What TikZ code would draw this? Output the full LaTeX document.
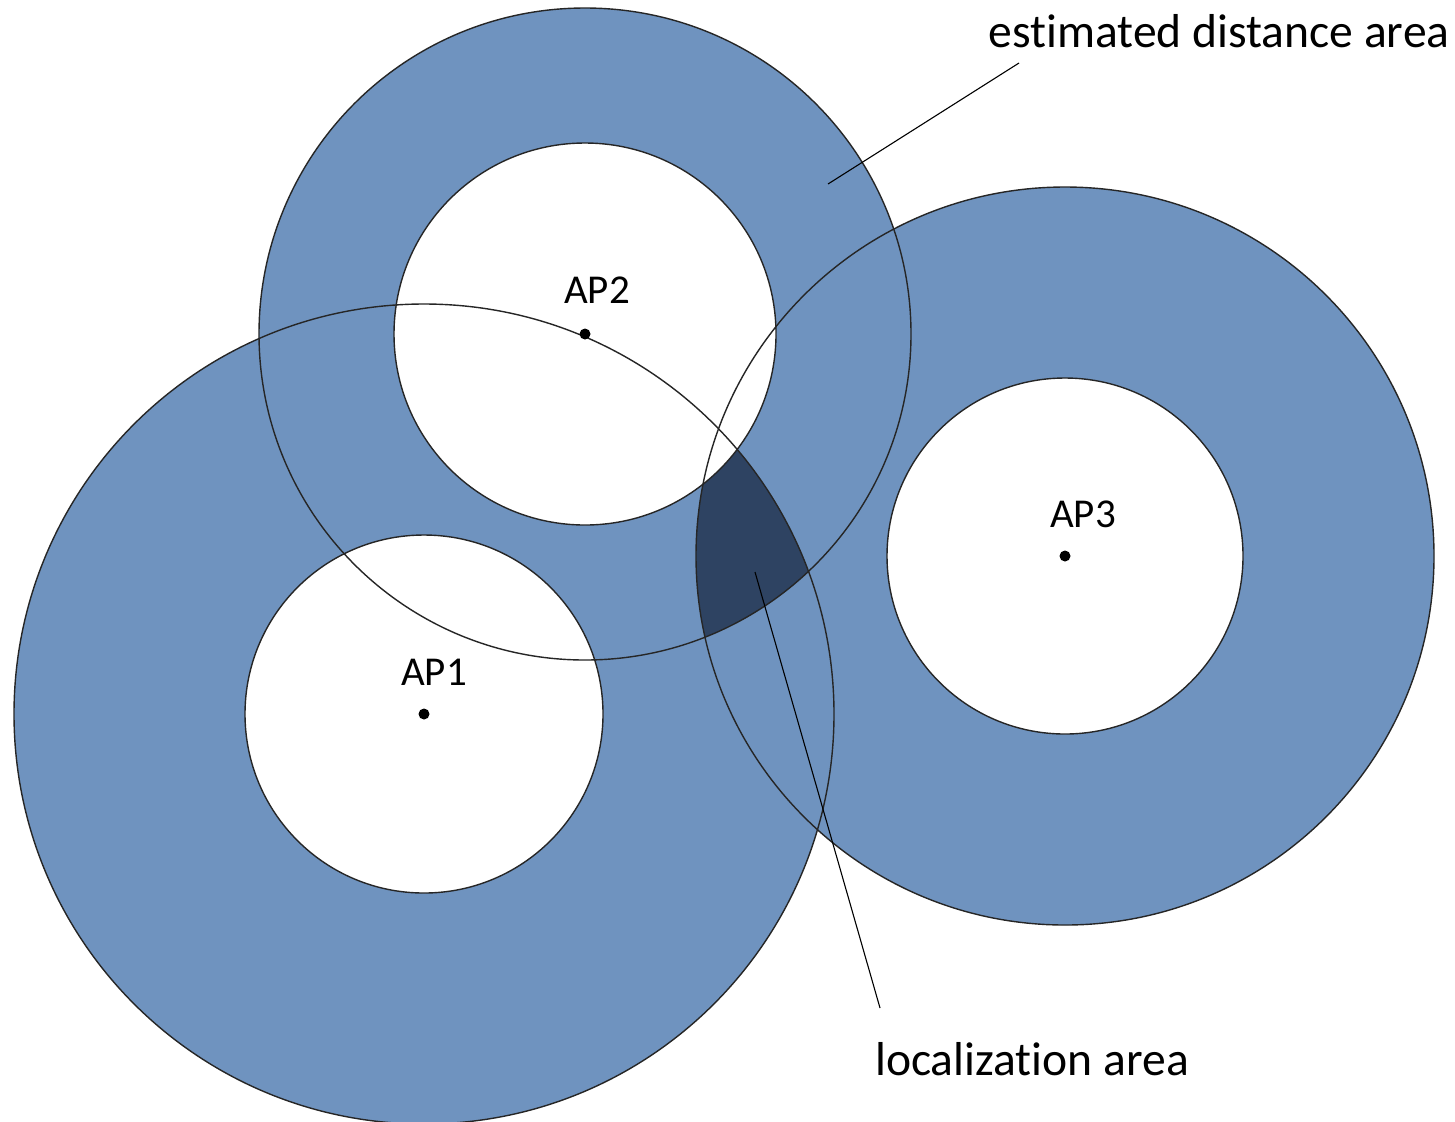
\documentclass[tikz,border=0pt]{standalone}
\usepackage{fontspec}
\setmainfont{Carlito}[Ligatures=NoCommon]
\definecolor{ringblue}{RGB}{111,147,191}
\definecolor{locdark}{RGB}{46,67,98}

\begin{document}
\begin{tikzpicture}[x=0.5pt,y=-0.5pt,
 ring/.style={fill=ringblue},
 hole/.style={fill=white},
 rim/.style={draw=black!85,line width=0.7pt},
 apdot/.style={circle,fill=black,inner sep=0pt,minimum size=5.5pt},
 aptext/.style={font=\fontsize{20.5}{24}\selectfont,anchor=base,inner sep=0pt},
 note/.style={font=\fontsize{23.8}{28}\selectfont,anchor=base,inner sep=0pt},
 leader/.style={draw=black,line width=0.55pt}]
 \useasboundingbox[fill=white] (0,0) rectangle (1455,1121);
 % centres of the access points
 \coordinate (c1) at (424,714);
 \coordinate (c2) at (585,334);
 \coordinate (c3) at (1065,556);
 % estimated distance rings
 \fill[ring] (c1) circle (410);
 \fill[ring] (c2) circle (326);
 \fill[ring] (c3) circle (369);
 % localization area
 \begin{scope}
  \clip (c1) circle (410);
  \clip (c2) circle (326);
  \clip (c3) circle (369);
  \fill[locdark] (c2) circle (326);
 \end{scope}
 \fill[hole] (c1) circle (179);
 \fill[hole] (c2) circle (191);
 \fill[hole] (c3) circle (178);
 % outlines
 \draw[rim] (c1) circle (410) (c1) circle (179);
 \draw[rim] (c2) circle (326) (c2) circle (191);
 \draw[rim] (c3) circle (369) (c3) circle (178);
 % access points
 \node[apdot] (ap1) at (c1) {};
 \node[apdot] (ap2) at (c2) {};
 \node[apdot] (ap3) at (c3) {};
 \node[aptext] (ap1lab) at (434,685) {AP1};
 \node[aptext] (ap2lab) at (597,303) {AP2};
 \node[aptext] (ap3lab) at (1083,527) {AP3};
 % annotations
 \node[note] (estlab) at (1219,47) {estimated distance area};
 \node[note] (loclab) at (1032,1075) {localization area};
 \coordinate (estA) at (1019,63);
 \coordinate (estB) at (828,184);
 \coordinate (locA) at (880,1008);
 \coordinate (locB) at (755,572);
 \draw[leader] (estA) -- (estB);
 \draw[leader] (locA) -- (locB);
\end{tikzpicture}
\end{document}
